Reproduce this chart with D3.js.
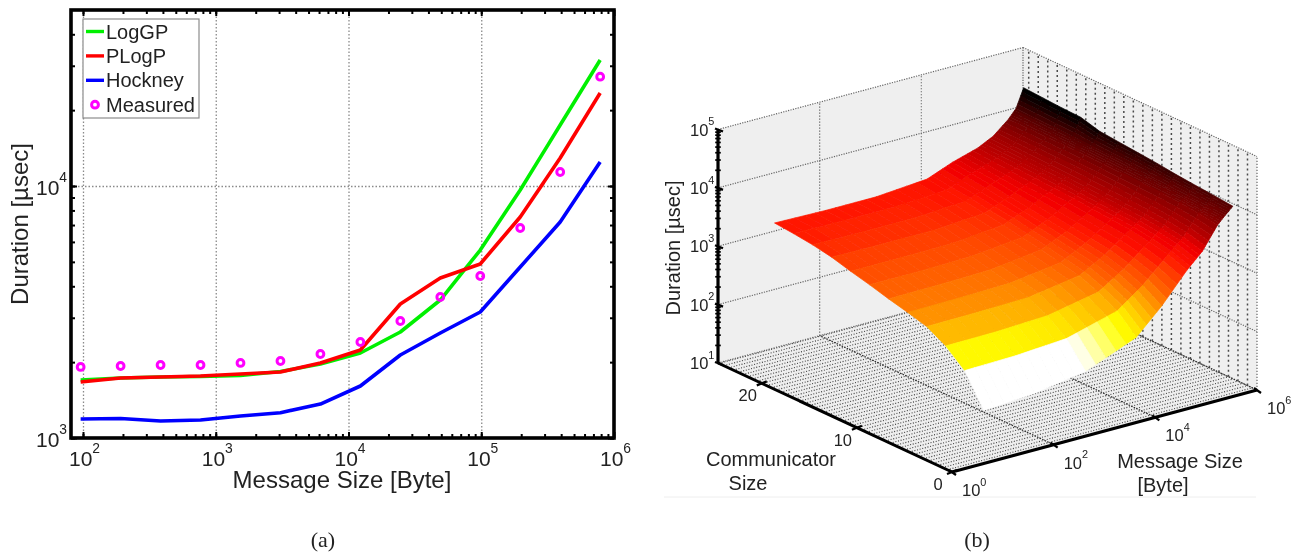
<!DOCTYPE html>
<html><head><meta charset="utf-8">
<script src="https://cdn.jsdelivr.net/npm/d3@7"></script>
<style>
html,body{margin:0;padding:0;background:#fff;overflow:hidden}
svg{display:block}
text{font-family:"Liberation Sans",Arial,sans-serif;fill:#222}
</style></head><body>
<svg id="c" width="1291" height="553"></svg>
<script>
// ---------- panel (a) data ----------
const messageSizes=[96,192,384,768,1536,3072,6144,12288,24576,49152,98304,196608,393216,786432];
const logGP=[1699,1730,1746,1754,1770,1836,1966,2174,2634,3528,5572,9641,17461,31623];
const pLogP=[1668,1730,1746,1762,1795,1828,1985,2235,3402,4315,4904,7534,12915,23388];
const hockney=[1190,1195,1168,1179,1223,1260,1364,1608,2135,2610,3162,4770,7197,12450];
const measured=[1914,1931,1948,1948,1985,2021,2154,2404,2913,3626,4394,6813,11365,27150];
const legendLabels=["LogGP","PLogP","Hockney","Measured"];
const xDecades=[100,1000,10000,100000,1000000];
const yDecades=[1000,10000];
// ---------- panel (b) data ----------
const commSizes=[2,4,6,8,10,12,14,16,18,20,22,24];
const surfaceMsgExp=[1,2,3,4,4.5,5,5.3,5.6,5.75,5.9];      // log10 of message size
const logDuration=[                                        // log10 of duration, rows = commSizes
[1.67,1.73,1.87,2.22,2.64,3.14,3.39,3.77,3.90,4.02],
[2.20,2.22,2.28,2.52,2.84,3.25,3.48,3.82,3.92,4.05],
[2.47,2.48,2.52,2.69,2.97,3.32,3.53,3.85,3.94,4.08],
[2.65,2.66,2.68,2.82,3.06,3.37,3.57,3.87,3.96,4.11],
[2.74,2.75,2.77,2.89,3.11,3.40,3.59,3.88,3.98,4.15],
[2.82,2.83,2.85,2.96,3.16,3.43,3.61,3.89,4.00,4.18],
[2.91,2.91,2.93,3.02,3.21,3.46,3.63,3.90,4.01,4.21],
[2.99,2.99,3.00,3.08,3.26,3.48,3.65,3.91,4.02,4.24],
[3.08,3.07,3.07,3.13,3.30,3.50,3.66,3.91,4.03,4.33],
[3.14,3.13,3.13,3.18,3.35,3.52,3.67,3.91,4.04,4.34],
[3.18,3.17,3.17,3.22,3.39,3.54,3.68,3.91,4.05,4.36],
[3.21,3.19,3.19,3.26,3.43,3.56,3.69,3.91,4.06,4.38]];
const zExpTicks=[1,2,3,4,5];
const msgExpTicks=[0,2,4,6];
const commTicks=[0,10,20];
const colorStops=[2.08,2.32,2.6,2.85,3.05,3.2,3.4,3.55,3.75,4.0,4.3];
const colorRange=["#ffffff","#ffff00","#ffaf00","#ff6400","#ff3c00","#ff1400","#f00000","#be0000","#960000","#5a0000","#000000"];

const svg=d3.select("#c");
const defs=svg.append("defs");
defs.append("filter").attr("id","soft").attr("x","-2%").attr("y","-2%").attr("width","104%").attr("height","104%")
  .append("feGaussianBlur").attr("stdDeviation",0.7);
const root=svg.append("g").attr("filter","url(#soft)");

function pow10(sel,base,exp,x,y,size,anchor){
  const t=sel.append("text").attr("x",x).attr("y",y).attr("font-size",size).attr("text-anchor",anchor||"start");
  t.append("tspan").text(base);
  t.append("tspan").attr("dy",-size*0.62).attr("dx",0).attr("font-size",size*0.66).text(exp);
}

// ================= panel (a) =================
const L=71,R=614,T=10,B=438;
const x=d3.scaleLog().domain([Math.pow(10,2-12/132.75),1e6]).range([L,R]);
const y=d3.scaleLog().domain([1000,Math.pow(10,4+176/252)]).range([B,T]);
const a=root.append("g");

// grid
a.append("g").attr("transform",`translate(0,${B})`)
 .call(d3.axisBottom(x).tickValues(xDecades.slice(0,-1)).tickSize(-(B-T)).tickFormat(""))
 .call(g=>{g.select(".domain").remove();g.selectAll("line").attr("stroke","#8a8a8a").attr("stroke-width",1.3).attr("stroke-dasharray","1.5 2");});
a.append("g").attr("transform",`translate(${L},0)`)
 .call(d3.axisLeft(y).tickValues(yDecades.slice(1)).tickSize(-(R-L)).tickFormat(""))
 .call(g=>{g.select(".domain").remove();g.selectAll("line").attr("stroke","#8a8a8a").attr("stroke-width",1.3).attr("stroke-dasharray","1.5 2");});

// minor + major ticks
const xMinor=[];[100,1000,10000,100000].forEach(d=>{for(let k=1;k<10;k++)xMinor.push(d*k);});
const yMinor=[];[1000,10000].forEach(d=>{for(let k=1;k<10;k++){const v=d*k;if(v<=y.domain()[1])yMinor.push(v);}});
function tickStyle(g){g.select(".domain").remove();g.selectAll("line").attr("stroke","#000").attr("stroke-width",2);}
a.append("g").attr("transform",`translate(0,${B})`).call(d3.axisBottom(x).tickValues(xMinor).tickSize(-4).tickFormat("")).call(tickStyle);
a.append("g").attr("transform",`translate(0,${T})`).call(d3.axisTop(x).tickValues(xMinor).tickSize(-4).tickFormat("")).call(tickStyle);
a.append("g").attr("transform",`translate(${L},0)`).call(d3.axisLeft(y).tickValues(yMinor).tickSize(-4).tickFormat("")).call(tickStyle);
a.append("g").attr("transform",`translate(${R},0)`).call(d3.axisRight(y).tickValues(yMinor).tickSize(-4).tickFormat("")).call(tickStyle);
a.append("g").attr("transform",`translate(0,${B})`).call(d3.axisBottom(x).tickValues(xDecades).tickSize(-6).tickFormat("")).call(tickStyle);
a.append("g").attr("transform",`translate(0,${T})`).call(d3.axisTop(x).tickValues(xDecades).tickSize(-6).tickFormat("")).call(tickStyle);
a.append("g").attr("transform",`translate(${L},0)`).call(d3.axisLeft(y).tickValues(yDecades).tickSize(-6).tickFormat("")).call(tickStyle);
a.append("g").attr("transform",`translate(${R},0)`).call(d3.axisRight(y).tickValues(yDecades).tickSize(-6).tickFormat("")).call(tickStyle);

// series
const line=d3.line().x((d,i)=>x(messageSizes[i])).y(d=>y(d));
[[logGP,"#00f000"],[pLogP,"#ff0000"],[hockney,"#0000ff"]].forEach(([s,c])=>{
  a.append("path").attr("d",line(s)).attr("fill","none").attr("stroke",c).attr("stroke-width",3.6).attr("stroke-linejoin","round");
});
a.selectAll("circle.m").data(measured).join("circle").attr("class","m")
 .attr("cx",(d,i)=>x(messageSizes[i])).attr("cy",d=>y(d)).attr("r",3.4)
 .attr("fill","none").attr("stroke","#ff00ff").attr("stroke-width",3);

// frame
a.append("rect").attr("x",L).attr("y",T).attr("width",R-L).attr("height",B-T)
 .attr("fill","none").attr("stroke","#000").attr("stroke-width",3.6);

// tick labels
xDecades.forEach(v=>{
  pow10(a,"10",Math.round(Math.log10(v)),x(v)-14,466,21);
});
yDecades.forEach(v=>{
  pow10(a,"10",Math.round(Math.log10(v)),36,y(v)+9,21);
});
a.append("text").attr("x",342).attr("y",488).attr("text-anchor","middle").attr("font-size",24).text("Message Size [Byte]");
a.append("text").attr("transform","translate(28,224) rotate(-90)").attr("text-anchor","middle").attr("font-size",24).text("Duration [µsec]");

// legend
const lg=a.append("g");
lg.append("rect").attr("x",83).attr("y",19).attr("width",116).attr("height",99).attr("fill","#fff").attr("stroke","#8c8c8c").attr("stroke-width",1.2);
const legendColors=["#00f000","#ff0000","#0000ff","#ff00ff"];
legendLabels.forEach((l,i)=>{
  const yy=31.5+i*24.4;
  if(i<3) lg.append("line").attr("x1",86).attr("x2",104).attr("y1",yy).attr("y2",yy).attr("stroke",legendColors[i]).attr("stroke-width",3.4);
  else lg.append("circle").attr("cx",95).attr("cy",yy).attr("r",3.4).attr("fill","none").attr("stroke",legendColors[i]).attr("stroke-width",3);
  lg.append("text").attr("x",106).attr("y",yy+7).attr("font-size",20).text(l);
});

// ================= panel (b) =================
const O=[952,472];
const commX=d3.scaleLinear().domain([0,24.6]).range([0,-234]);
const commY=d3.scaleLinear().domain([0,24.6]).range([0,-109]);
const msgX=d3.scaleLinear().domain([0,6]).range([0,305]);
const msgY=d3.scaleLinear().domain([0,6]).range([0,-82]);
const zY=d3.scaleLinear().domain([1,5]).range([0,-233.5]);
const P=(c,m,z)=>[O[0]+commX(c)+msgX(m),O[1]+commY(c)+msgY(m)+zY(z)];
const pathOf=pts=>d3.line()(pts);
const cMax=24.6,mMax=6;
const b=root.append("g");

// walls
b.append("path").attr("d",pathOf([P(cMax,0,1),P(cMax,0,5),P(cMax,mMax,5),P(cMax,mMax,1)])+"Z").attr("fill","#efefef");
b.append("path").attr("d",pathOf([P(cMax,mMax,1),P(cMax,mMax,5),P(0,mMax,5),P(0,mMax,1)])+"Z").attr("fill","#efefef");
b.append("path").attr("d",pathOf([P(0,0,1),P(cMax,0,1),P(cMax,mMax,1),P(0,mMax,1)])+"Z").attr("fill","#eeeeee");

const dotted=(pts,col,w,dash)=>b.append("path").attr("d",pathOf(pts)).attr("fill","none").attr("stroke",col).attr("stroke-width",w).attr("stroke-dasharray",dash);

// floor hatching
d3.range(0.5,cMax,0.5).forEach(c=>dotted([P(c,0,1),P(c,mMax,1)],"#3c3c3c",1.1,"1 1.7"));
// right wall vertical minor lines
d3.range(1,cMax,1).forEach(c=>dotted([P(c,mMax,1),P(c,mMax,5)],"#4a4a4a",1.5,"2 3"));
// wall majors
zExpTicks.forEach(z=>{
  dotted([P(cMax,0,z),P(cMax,mMax,z)],"#666",1.2,"1.2 1.3");
  dotted([P(cMax,mMax,z),P(0,mMax,z)],"#666",1.2,"1.2 1.3");
});
[2,4].forEach(m=>{
  dotted([P(cMax,m,1),P(cMax,m,5)],"#666",1.2,"1.2 1.8");
  dotted([P(0,m,1),P(cMax,m,1)],"#333",1.3,"1.5 1.3");
});
dotted([P(cMax,mMax,1),P(0,mMax,1)],"#333",1.3,"1.5 1.3");
dotted([P(cMax,mMax,1),P(cMax,mMax,5)],"#666",1.2,"1.2 1.3");
dotted([P(0,mMax,1),P(0,mMax,5)],"#666",1.2,"1.2 1.8");

// surface: one band per communicator row, shaded along the message-size direction
const color=d3.scaleLinear().domain(colorStops).range(colorRange).clamp(true);
const sub=5;
for(let i=commSizes.length-2;i>=0;i--){
  for(let j=surfaceMsgExp.length-2;j>=0;j--){
    const c0=commSizes[i],c1=commSizes[i+1];
    for(let s=sub-1;s>=0;s--){
      const f0=s/sub,f1=(s+1)/sub;
      const m0=d3.interpolateNumber(surfaceMsgExp[j],surfaceMsgExp[j+1])(f0);
      const m1=d3.interpolateNumber(surfaceMsgExp[j],surfaceMsgExp[j+1])(f1);
      const zAt=(r,f)=>d3.interpolateNumber(logDuration[r][j],logDuration[r][j+1])(f);
      const zs=[zAt(i,f0),zAt(i,f1),zAt(i+1,f1),zAt(i+1,f0)];
      const col=color(d3.mean(zs));
      b.append("path").attr("d",pathOf([P(c0,m0,zs[0]),P(c0,m1,zs[1]),P(c1,m1,zs[2]),P(c1,m0,zs[3])])+"Z")
       .attr("fill",col).attr("stroke",col).attr("stroke-width",0.7).attr("stroke-linejoin","round");
    }
  }
}

// bold axes
const thick=(p,q,w)=>b.append("path").attr("d",pathOf([p,q])).attr("stroke","#000").attr("stroke-width",w||3).attr("fill","none");
thick(P(cMax,0,1),P(cMax,0,5),3.2);
thick(P(0,0,1),P(cMax,0,1));
thick(P(0,0,1),P(0,mMax,1));
// z ticks
zExpTicks.forEach(z=>{
  const p=P(cMax,0,z);thick([p[0]-3,p[1]-1],[p[0]+5,p[1]+2],2.4);
  if(z<5)[2,3,4,5,6,7,8,9].forEach(k=>{const q=P(cMax,0,z+Math.log10(k));thick([q[0]-2.8,q[1]],[q[0]+2.8,q[1]],1.7);});
});
commTicks.forEach(c=>{const p=P(c,0,1);thick([p[0]-5,p[1]+2],[p[0]+5,p[1]-2],2.2);});
msgExpTicks.forEach(m=>{const p=P(0,m,1);thick([p[0]-3,p[1]-2],[p[0]+4,p[1]+3],2.2);});

// tick labels
zExpTicks.forEach(z=>{const p=P(cMax,0,z);pow10(b,"10",z,p[0]-28,p[1]+6,16.5);});
commTicks.forEach(c=>{
  const p=P(c,0,1);
  b.append("text").attr("x",p[0]-14).attr("y",p[1]+18).attr("text-anchor","middle").attr("font-size",16.5).text(c);
});
msgExpTicks.forEach(m=>{const p=P(0,m,1);pow10(b,"10",m,p[0]+10,p[1]+24,16.5);});

b.append("text").attr("transform","translate(680,248) rotate(-90)").attr("text-anchor","middle").attr("font-size",20).text("Duration [µsec]");
b.append("text").attr("x",771).attr("y",466).attr("text-anchor","middle").attr("font-size",20).text("Communicator");
b.append("text").attr("x",748).attr("y",490).attr("text-anchor","middle").attr("font-size",20).text("Size");
b.append("text").attr("x",1180).attr("y",468).attr("text-anchor","middle").attr("font-size",20).text("Message Size");
b.append("text").attr("x",1163).attr("y",492).attr("text-anchor","middle").attr("font-size",20).text("[Byte]");
b.append("line").attr("x1",664).attr("x2",1256).attr("y1",497).attr("y2",497).attr("stroke","#eeeeee").attr("stroke-width",1);

// captions
root.append("text").attr("x",323).attr("y",547).attr("text-anchor","middle").attr("font-size",22).style("font-family","'Liberation Serif',serif").text("(a)");
root.append("text").attr("x",977).attr("y",547).attr("text-anchor","middle").attr("font-size",22).style("font-family","'Liberation Serif',serif").text("(b)");
</script></body></html>
